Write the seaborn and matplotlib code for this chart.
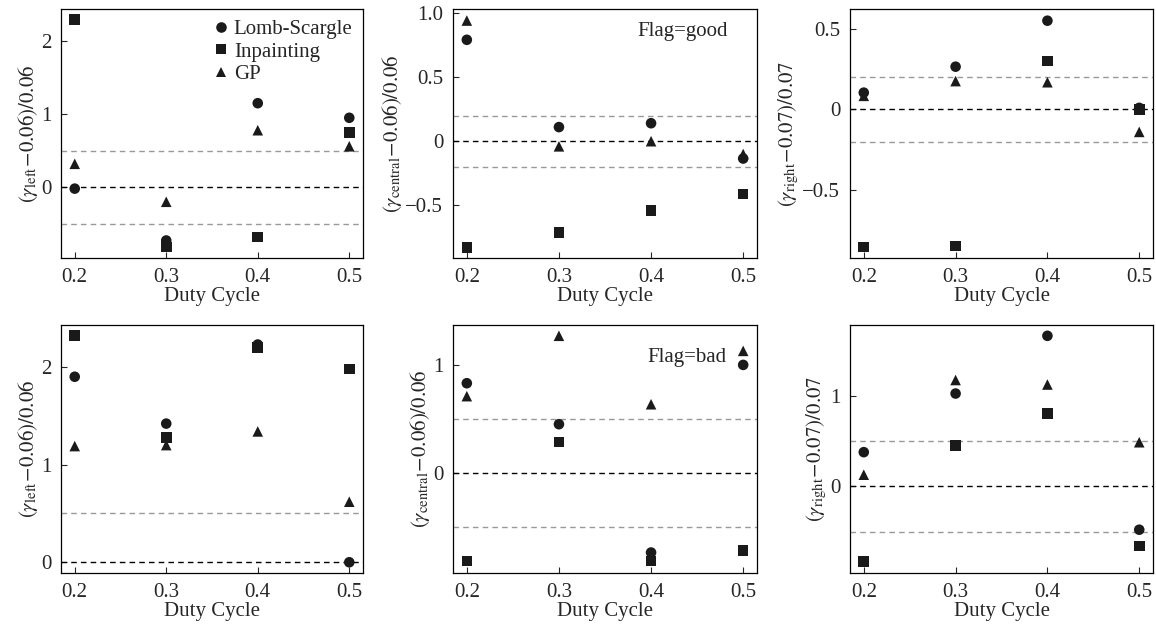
import numpy as np
import pandas as pd
import matplotlib
matplotlib.use("Agg")
import matplotlib.pyplot as plt
import seaborn as sns

duty = [0.2, 0.3, 0.4, 0.5]
methods = ["Lomb-Scargle", "Inpainting", "GP"]

# Flag = good
good_left_ls = [-0.02, -0.73, 1.15, 0.95]
good_left_inp = [2.30, -0.82, -0.68, 0.75]
good_left_gp = [0.32, -0.20, 0.78, 0.56]

good_central_ls = [0.79, 0.11, 0.14, -0.135]
good_central_inp = [-0.83, -0.71, -0.54, -0.41]
good_central_gp = [0.94, -0.04, 0.00, -0.10]

good_right_ls = [0.105, 0.267, 0.554, 0.01]
good_right_inp = [-0.858, -0.852, 0.302, 0.00]
good_right_gp = [0.085, 0.177, 0.17, -0.14]

# Flag = bad
bad_left_ls = [1.90, 1.42, 2.23, 0.00]
bad_left_inp = [2.32, 1.28, 2.20, 1.98]
bad_left_gp = [1.19, 1.20, 1.34, 0.62]

bad_central_ls = [0.83, 0.45, -0.74, 1.00]
bad_central_inp = [-0.82, 0.285, -0.82, -0.72]
bad_central_gp = [0.71, 1.27, 0.635, 1.13]

bad_right_ls = [0.38, 1.03, 1.67, -0.48]
bad_right_inp = [-0.83, 0.455, 0.81, -0.66]
bad_right_gp = [0.13, 1.18, 1.13, 0.49]

ylabels = [r"$(\gamma_{\rm left}\!-\!0.06)/0.06$",
           r"$(\gamma_{\rm central}\!-\!0.06)/0.06$",
           r"$(\gamma_{\rm right}\!-\!0.07)/0.07$"]

panels = [
    dict(vals=(good_left_ls, good_left_inp, good_left_gp), thr=0.5, ylim=(-0.97, 2.44),
         yticks=[0, 1, 2], yticklabels=["0", "1", "2"], label=0, note=None, legend=True),
    dict(vals=(good_central_ls, good_central_inp, good_central_gp), thr=0.2, ylim=(-0.91, 1.03),
         yticks=[-0.5, 0, 0.5, 1.0], yticklabels=["\u22120.5", "0", "0.5", "1.0"], label=1,
         note="Flag=good", note_pos=(0.905, 0.91), legend=False),
    dict(vals=(good_right_ls, good_right_inp, good_right_gp), thr=0.2, ylim=(-0.927, 0.627),
         yticks=[-0.5, 0, 0.5], yticklabels=["\u22120.5", "0", "0.5"], label=2, note=None, legend=False),
    dict(vals=(bad_left_ls, bad_left_inp, bad_left_gp), thr=0.5, ylim=(-0.11, 2.43),
         yticks=[0, 1, 2], yticklabels=["0", "1", "2"], label=0, note=None, legend=False),
    dict(vals=(bad_central_ls, bad_central_inp, bad_central_gp), thr=0.5, ylim=(-0.93, 1.37),
         yticks=[0, 1], yticklabels=["0", "1"], label=1,
         note="Flag=bad", note_pos=(0.90, 0.868), legend=False),
    dict(vals=(bad_right_ls, bad_right_inp, bad_right_gp), thr=0.5, ylim=(-0.96, 1.79),
         yticks=[0, 1], yticklabels=["0", "1"], label=2, note=None, legend=False),
]

FS = 15

sns.set_style("ticks")
plt.rcParams["font.family"] = ["Liberation Serif", "DejaVu Serif"]
plt.rcParams["mathtext.fontset"] = "stix"
plt.rcParams["font.size"] = FS

W, H = 1156, 626
fig = plt.figure(figsize=(W / 100, H / 100), dpi=100)

col_l = [61, 453, 850]
col_w = [302, 304, 303]
row_t = [9, 325]
row_b = [258, 573]

markers = {"Lomb-Scargle": "o", "Inpainting": "s", "GP": "^"}

for i, p in enumerate(panels):
    r, c = divmod(i, 3)
    ax = fig.add_axes([col_l[c] / W, 1 - row_b[r] / H, col_w[c] / W, (row_b[r] - row_t[r]) / H])
    rows = []
    for m, v in zip(methods, p["vals"]):
        for d, y in zip(duty, v):
            rows.append(dict(duty=d, value=y, method=m))
    df = pd.DataFrame(rows)
    ax.axhline(0, color="black", ls=(0, (4, 3)), lw=1.0, zorder=1)
    ax.axhline(p["thr"], color="#999999", ls=(0, (4, 3)), lw=1.0, zorder=1)
    ax.axhline(-p["thr"], color="#999999", ls=(0, (4, 3)), lw=1.0, zorder=1)
    sns.scatterplot(data=df, x="duty", y="value", style="method", markers=markers,
                    style_order=methods, color="#1a1a1a", s=58, edgecolor="none",
                    linewidth=0, ax=ax, legend=p["legend"], zorder=3)
    ax.set_xlim(0.185, 0.515)
    ax.set_ylim(*p["ylim"])
    ax.set_xticks(duty)
    ax.set_xticklabels(["0.2", "0.3", "0.4", "0.5"])
    ax.set_yticks(p["yticks"])
    ax.set_yticklabels(p["yticklabels"])
    ax.set_xlabel("Duty Cycle", fontsize=FS, labelpad=0)
    ax.set_ylabel(ylabels[p["label"]], fontsize=FS, labelpad=1)
    ax.tick_params(direction="in", length=4, width=0.8, labelsize=FS)
    ax.tick_params(axis="x", pad=7)
    ax.tick_params(axis="y", pad=7)
    for s in ax.spines.values():
        s.set_linewidth(0.9)
        s.set_color("black")
    if p["note"]:
        ax.text(p["note_pos"][0], p["note_pos"][1], p["note"], transform=ax.transAxes,
                ha="right", va="center", fontsize=FS)
    if p["legend"]:
        leg = ax.legend(loc="upper right", bbox_to_anchor=(1.0, 1.0), frameon=False, fontsize=FS,
                        handletextpad=0.0, borderaxespad=0.3, labelspacing=0.15,
                        handlelength=1.2, borderpad=0.2)
        for h in leg.legend_handles:
            h.set_color("#1a1a1a")

fig.savefig("out.png", dpi=100)
